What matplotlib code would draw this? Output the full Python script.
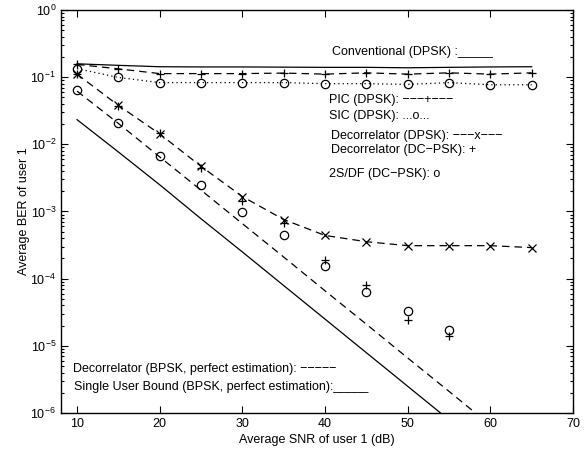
import matplotlib
matplotlib.use("Agg")
import matplotlib.pyplot as plt
from matplotlib.ticker import LogLocator, NullFormatter

plt.rcParams['font.family'] = ['Liberation Sans', 'DejaVu Sans']
plt.rcParams['mathtext.fontset'] = 'custom'
plt.rcParams['mathtext.rm'] = 'Liberation Sans'
plt.rcParams['mathtext.it'] = 'Liberation Sans'
plt.rcParams['mathtext.default'] = 'regular'

# ---- data ----
snr_full = [10, 15, 20, 25, 30, 35, 40, 45, 50, 55, 60, 65]
conventional = [0.158, 0.150, 0.143, 0.142, 0.142, 0.141, 0.140, 0.140, 0.138, 0.140, 0.142, 0.143]
pic = [0.155, 0.133, 0.113, 0.113, 0.113, 0.115, 0.111, 0.116, 0.111, 0.116, 0.111, 0.116]
sic = [0.134, 0.099, 0.083, 0.083, 0.083, 0.083, 0.080, 0.080, 0.078, 0.083, 0.077, 0.077]
dec_dpsk = [0.111, 0.038, 0.0143, 0.0047, 0.00167, 7.6e-4, 4.4e-4, 3.55e-4, 3.1e-4, 3.1e-4, 3.1e-4, 2.9e-4]

snr_dc = [10, 15, 20, 25, 30, 35, 40, 45, 50, 55]
dec_dcpsk = [0.11, 0.037, 0.0145, 0.0045, 1.44e-3, 6.8e-4, 1.9e-4, 8.1e-5, 2.4e-5, 1.38e-5]
sdf_dcpsk = [0.064, 0.021, 0.0068, 0.0025, 9.7e-4, 4.5e-4, 1.52e-4, 6.3e-5, 3.3e-5, 1.7e-5]

snr_su = [10, 15, 20, 25, 30, 35, 40, 45, 50, 55]
single_user = [2.33e-2, 7.7e-3, 2.5e-3, 7.8e-4, 2.5e-4, 7.9e-5, 2.5e-5, 7.9e-6, 2.5e-6, 7.9e-7]

snr_bp = [10, 15, 20, 25, 30, 35, 40, 45, 50, 55, 60]
dec_bpsk = [0.062, 0.0205, 6.5e-3, 2.08e-3, 6.6e-4, 2.1e-4, 6.6e-5, 2.1e-5, 6.6e-6, 2.1e-6, 6.6e-7]

xticks = [10, 20, 30, 40, 50, 60, 70]

labels = [
    ("Conventional (DPSK) :_____", 0.529, 0.896),
    ("PIC (DPSK): \u2212\u2212\u2212+\u2212\u2212\u2212", 0.523, 0.777),
    ("SIC (DPSK): ...o...", 0.523, 0.737),
    ("Decorrelator (DPSK): \u2212\u2212\u2212x\u2212\u2212\u2212", 0.527, 0.687),
    ("Decorrelator (DC\u2212PSK): +", 0.527, 0.653),
    ("2S/DF (DC\u2212PSK): o", 0.523, 0.594),
    ("Decorrelator (BPSK, perfect estimation): \u2212\u2212\u2212\u2212\u2212", 0.023, 0.109),
    ("Single User Bound (BPSK, perfect estimation):_____", 0.025, 0.0645),
]

fig = plt.figure(figsize=(5.84, 4.5), dpi=100)
ax = fig.add_axes([61/584, 37/450, 512/584, 403/450])

lw = 0.9
ms = 6
dash = (6, 4)
ax.semilogy(snr_full, conventional, color='k', lw=lw)
ax.semilogy(snr_full, pic, color='k', lw=lw, dashes=dash, marker='+', ms=ms, mew=0.9)
ax.semilogy(snr_full, sic, color='k', lw=lw, linestyle=(0, (1, 2.5)), marker='o', ms=ms,
            mfc='none', mew=0.9)
ax.semilogy(snr_full, dec_dpsk, color='k', lw=lw, dashes=dash, marker='x', ms=ms, mew=0.9)
ax.semilogy(snr_dc, dec_dcpsk, color='k', marker='+', ms=ms, mew=0.9, linestyle='none')
ax.semilogy(snr_dc, sdf_dcpsk, color='k', marker='o', ms=ms, mfc='none', mew=0.9,
            linestyle='none')
ax.semilogy(snr_su, single_user, color='k', lw=lw)
ax.semilogy(snr_bp, dec_bpsk, color='k', lw=lw, dashes=dash)

ax.set_xlim(8.06, 70)
ax.set_ylim(1e-6, 1)
ax.set_xticks(xticks)
ax.yaxis.set_major_locator(LogLocator(base=10, numticks=10))
ax.yaxis.set_minor_locator(LogLocator(base=10, subs=range(2, 10), numticks=10))
ax.yaxis.set_minor_formatter(NullFormatter())
ax.tick_params(which='both', direction='in', top=True, right=True, labelsize=9, width=0.8)
ax.tick_params(which='major', length=5)
ax.tick_params(which='minor', length=2.5)
for s in ax.spines.values():
    s.set_linewidth(1.0)

ax.set_xlabel("Average SNR of user 1 (dB)", fontsize=9, labelpad=3)
ax.set_ylabel("Average BER of user 1", fontsize=9, labelpad=0)

for txt, fx, fy in labels:
    ax.text(fx, fy, txt, transform=ax.transAxes, ha='left', va='center', fontsize=9)

fig.savefig("out.png", dpi=100, facecolor='white')
